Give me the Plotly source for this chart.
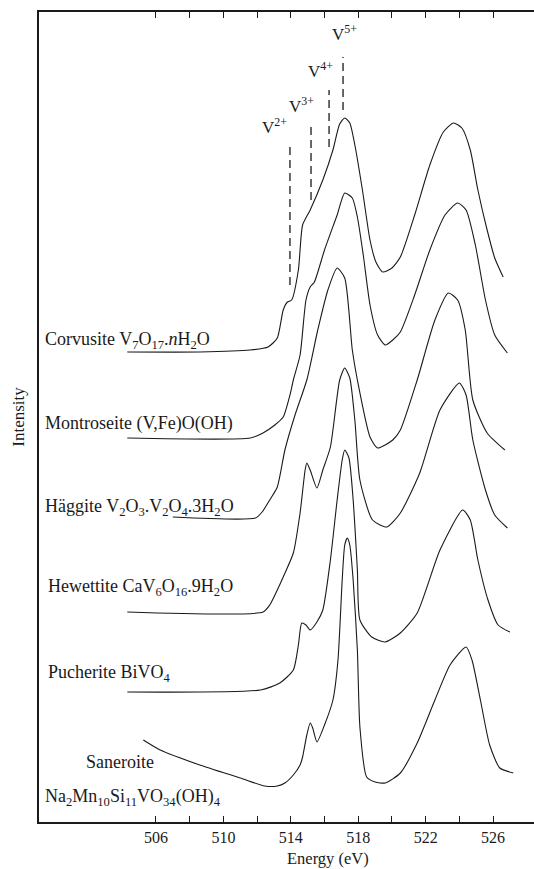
import plotly.graph_objects as go

# ---------------- data (energy in eV, intensity in arbitrary units) ----------------
corvusite_e = [504.3, 508.6, 511.6, 512.65, 513.2, 513.55, 513.8, 514.05, 514.45, 514.7, 515.15, 515.9, 516.5, 516.9, 517.2, 517.5, 517.8, 518.25, 518.7, 519.05, 519.45, 520.0, 520.5, 521.35, 522.25, 523.05, 523.65, 524.15, 524.65, 525.1, 525.65, 526.1, 526.6]
corvusite_i = [470, 470, 472, 475, 484, 512, 520, 522, 552, 597, 612, 642, 672, 698, 704, 699, 677, 632, 582, 560, 550, 554, 565, 607, 657, 690, 699, 694, 672, 632, 592, 564, 545]

montroseite_e = [504.3, 511.6, 512.35, 513.05, 513.55, 513.95, 514.15, 514.55, 514.9, 515.15, 515.4, 516.0, 516.75, 517.2, 517.65, 517.95, 518.3, 518.7, 519.15, 519.6, 520.05, 520.5, 521.35, 522.25, 523.15, 523.9, 524.4, 524.95, 525.55, 526.1, 526.85]
montroseite_i = [384, 384, 389, 397, 405, 427, 442, 467, 522, 535, 540, 572, 607, 629, 624, 605, 567, 517, 487, 477, 482, 490, 527, 572, 607, 619, 612, 577, 522, 487, 469]

haggite_e = [507.0, 511.9, 512.3, 512.75, 513.2, 513.65, 514.25, 514.95, 515.6, 516.2, 516.75, 517.2, 517.65, 517.95, 518.7, 519.15, 520.05, 520.5, 521.5, 522.55, 523.35, 523.9, 524.35, 524.8, 525.65, 526.7]
haggite_i = [305, 304, 310, 322, 335, 372, 407, 442, 492, 532, 554, 544, 472, 442, 385, 374, 382, 392, 442, 502, 529, 522, 492, 422, 389, 372]

hewettite_e = [504.3, 512.35, 512.75, 513.2, 513.55, 514.15, 514.55, 514.85, 514.95, 515.15, 515.55, 515.9, 516.35, 516.9, 517.2, 517.5, 517.8, 518.1, 518.85, 519.7, 520.5, 521.65, 522.85, 524.0, 524.4, 524.8, 525.55, 526.1, 526.85]
hewettite_i = [210, 210, 217, 232, 245, 269, 309, 352, 359, 352, 334, 352, 375, 442, 454, 444, 402, 342, 302, 295, 309, 349, 412, 439, 427, 382, 332, 307, 294]

pucherite_e = [504.3, 512.2, 513.35, 514.15, 514.45, 514.65, 514.9, 515.15, 515.55, 515.9, 516.35, 516.75, 517.05, 517.2, 517.45, 517.7, 517.95, 518.1, 518.8, 519.6, 520.5, 521.5, 522.85, 524.2, 524.65, 525.1, 525.7, 526.3, 527.0]
pucherite_i = [130, 132, 139, 152, 177, 199, 197, 192, 200, 212, 262, 322, 362, 372, 364, 322, 252, 202, 185, 180, 189, 209, 272, 312, 302, 262, 222, 197, 190]

saneroite_e = [505.25, 506.25, 508.6, 511.0, 512.45, 513.2, 513.65, 514.15, 514.55, 514.7, 514.95, 515.15, 515.3, 515.55, 516.0, 516.5, 516.8, 517.05, 517.2, 517.35, 517.5, 517.7, 517.95, 518.1, 518.5, 519.0, 519.6, 520.5, 521.5, 522.55, 523.45, 524.4, 524.75, 525.25, 525.8, 526.4, 527.2]
saneroite_i = [82, 72, 57, 44, 36, 36, 39, 47, 57, 65, 87, 99, 94, 80, 97, 122, 162, 242, 277, 284, 277, 242, 172, 95, 45, 40, 39, 49, 79, 122, 157, 175, 162, 122, 77, 54, 49]

# oxidation-state reference energies and their marker spans
ox_labels = ["V<sup>2+</sup>", "V<sup>3+</sup>", "V<sup>4+</sup>", "V<sup>5+</sup>"]
ox_energy = [513.95, 515.2, 516.27, 517.1]
ox_top = [679, 697, 732, 765]
ox_bottom = [537, 622, 675, 712]

tick_vals = [506, 508, 510, 512, 514, 516, 518, 520, 522, 524, 526]
tick_text = ["506", "", "510", "", "514", "", "518", "", "522", "", "526"]

spectra = [
    ("Corvusite", corvusite_e, corvusite_i),
    ("Montroseite", montroseite_e, montroseite_i),
    ("Häggite", haggite_e, haggite_i),
    ("Hewettite", hewettite_e, hewettite_i),
    ("Pucherite", pucherite_e, pucherite_i),
    ("Saneroite", saneroite_e, saneroite_i),
]

INK = "#1a1a1a"
fig = go.Figure()
for name, e, i in spectra:
    fig.add_trace(go.Scatter(x=e, y=i, mode="lines", name=name,
                             line=dict(color=INK, width=1.1, shape="spline", smoothing=0.6),
                             showlegend=False, hoverinfo="skip"))

for lab, e, t, b in zip(ox_labels, ox_energy, ox_top, ox_bottom):
    fig.add_trace(go.Scatter(x=[e, e], y=[b, t], mode="lines",
                             line=dict(color=INK, width=1.3, dash="8px,5px"),
                             showlegend=False, hoverinfo="skip"))

SERIF = "Liberation Serif, Times New Roman, serif"
ann = []
ox_label_pos = [(513.05, 696), (514.65, 717), (515.75, 752), (517.2, 789)]
for lab, (lx, ly) in zip(ox_labels, ox_label_pos):
    ann.append(dict(x=lx, y=ly, text=lab, showarrow=False, xref="x", yref="y",
                    font=dict(family=SERIF, size=17, color=INK)))

labels = [
    ("Corvusite V<sub>7</sub>O<sub>17</sub>.<i>n</i>H<sub>2</sub>O", 499.3, 482),
    ("Montroseite (V,Fe)O(OH)", 499.3, 399),
    ("Häggite V<sub>2</sub>O<sub>3</sub>.V<sub>2</sub>O<sub>4</sub>.3H<sub>2</sub>O", 499.3, 315),
    ("Hewettite CaV<sub>6</sub>O<sub>16</sub>.9H<sub>2</sub>O", 499.5, 235),
    ("Pucherite BiVO<sub>4</sub>", 499.5, 149),
    ("Na<sub>2</sub>Mn<sub>10</sub>Si<sub>11</sub>VO<sub>34</sub>(OH)<sub>4</sub>", 499.3, 25),
]
for txt, lx, ly in labels:
    ann.append(dict(x=lx, y=ly, text=txt, showarrow=False, xref="x", yref="y",
                    xanchor="left", yanchor="middle",
                    font=dict(family=SERIF, size=18, color=INK)))
ann.append(dict(x=503.85, y=60, text="Saneroite", showarrow=False, xref="x", yref="y",
                xanchor="center", yanchor="middle",
                font=dict(family=SERIF, size=18, color=INK)))
# x-axis title placed just under the tick labels
ann.append(dict(x=516.2, y=-0.0445, text="Energy (eV)", showarrow=False, xref="x", yref="paper",
                xanchor="center", yanchor="middle",
                font=dict(family=SERIF, size=16.5, color=INK)))

fig.update_layout(
    width=534, height=869,
    margin=dict(l=39, r=0, t=12, b=47),
    paper_bgcolor="white", plot_bgcolor="white",
    annotations=ann,
    xaxis=dict(range=[499.06, 528.43], tickvals=tick_vals, ticktext=tick_text,
               ticks="inside", ticklen=6, tickwidth=1.3, tickcolor=INK,
               showline=True, linecolor=INK, linewidth=1.5, mirror="ticks",
               showgrid=False, zeroline=False, ticklabelstandoff=0,
               tickfont=dict(family=SERIF, size=16, color=INK)),
    yaxis=dict(range=[0, 810], showticklabels=False, ticks="",
               showline=True, linecolor=INK, linewidth=1.5, mirror=False,
               showgrid=False, zeroline=False,
               title=dict(text="Intensity", font=dict(family=SERIF, size=17, color=INK), standoff=8)),
)

fig.write_html("out.html")
